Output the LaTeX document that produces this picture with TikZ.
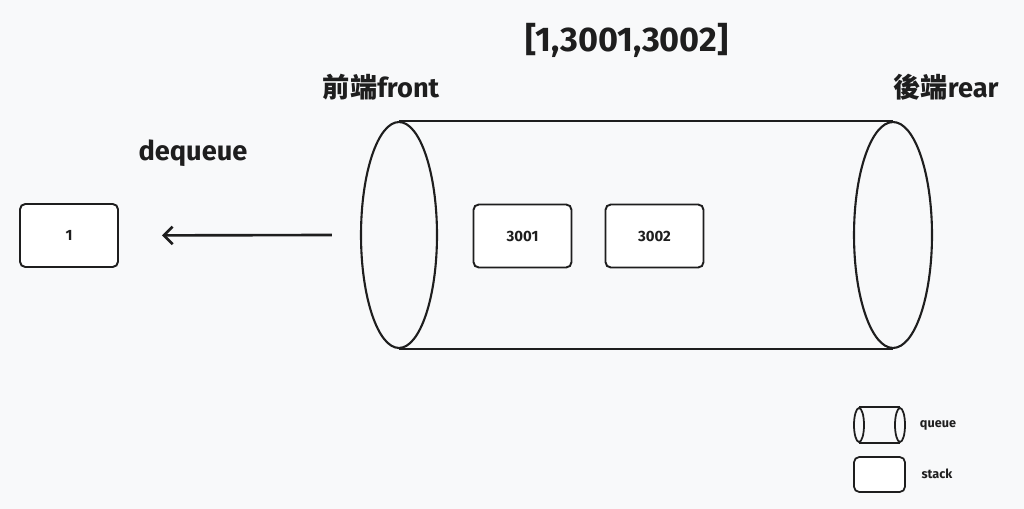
\documentclass[tikz,border=0pt]{standalone}
\usepackage{fontspec}
\setmainfont{Fira Sans}
\newfontfamily\cjk{Noto Sans CJK TC}
\usetikzlibrary{arrows.meta, shapes.geometric}
\definecolor{paper}{RGB}{248,249,250}
\definecolor{ink}{RGB}{30,30,30}
\tikzset{
  item/.style={
    draw=ink, rounded corners=3pt, line width=1.1pt,
    fill=white, text=ink, font=\fontsize{8.5}{10}\selectfont\bfseries,
    minimum width=1.96cm, minimum height=1.26cm, inner sep=0pt
  },
  tubeend/.style={
    ellipse, draw=ink, line width=1.2pt, inner sep=0pt,
    minimum width=1.52cm, minimum height=4.52cm
  },
  tubeside/.style={draw=ink, line width=1.2pt},
  label/.style={text=ink, font=\fontsize{15.5}{18}\selectfont\bfseries},
  legendtext/.style={text=ink, font=\fontsize{7.2}{9}\selectfont\bfseries},
  arrow/.style={-{Straight Barb[length=5pt,width=10pt]}, line width=1.5pt, ink}
}

\begin{document}
\begin{tikzpicture}[x=0.02cm, y=-0.02cm]
  \fill[paper] (0,0) rectangle (1024,509);
  \useasboundingbox (0,0) rectangle (1024,509);

  % queue body
  \node[tubeend] (front) at (399,235) {};
  \node[tubeend, minimum width=1.56cm] (rear) at (893,235) {};
  \draw[tubeside] (front.north) -- (rear.north);
  \draw[tubeside] (front.south) -- (rear.south);

  \node[item] (n3001) at (522.5,236) {3001};
  \node[item] (n3002) at (654.5,236) {3002};
  \node[item] (n1) at (69,235.5) {1};

  \draw[arrow, shorten >=0.86cm] ([xshift=-0.56cm]front.west) -- (n1.east);

  % labels
  \node[text=ink, font=\fontsize{19.5}{22}\selectfont\bfseries] (content) at (627,40) {[1,3001,3002]};
  \node[label] (frontlbl) at (381,87) {{\cjk 前端}front};
  \node[label] (rearlbl) at (946,87) {{\cjk 後端}rear};
  \node[label] (deq) at (193,153) {dequeue};

  % legend
  \node[tubeend, line width=1pt, minimum width=0.2cm, minimum height=0.68cm] (lgfront) at (859,425) {};
  \node[tubeend, line width=1pt, minimum width=0.2cm, minimum height=0.68cm] (lgrear) at (900,425) {};
  \draw[tubeside, line width=1pt] (lgfront.north) -- (lgrear.north);
  \draw[tubeside, line width=1pt] (lgfront.south) -- (lgrear.south);
  \node[legendtext] (lgqueue) at (938,425) {queue};
  \node[item, line width=1pt, minimum width=1.02cm, minimum height=0.7cm] (lgbox) at (879.5,474.5) {};
  \node[legendtext] (lgstack) at (937,474) {stack};
\end{tikzpicture}
\end{document}
